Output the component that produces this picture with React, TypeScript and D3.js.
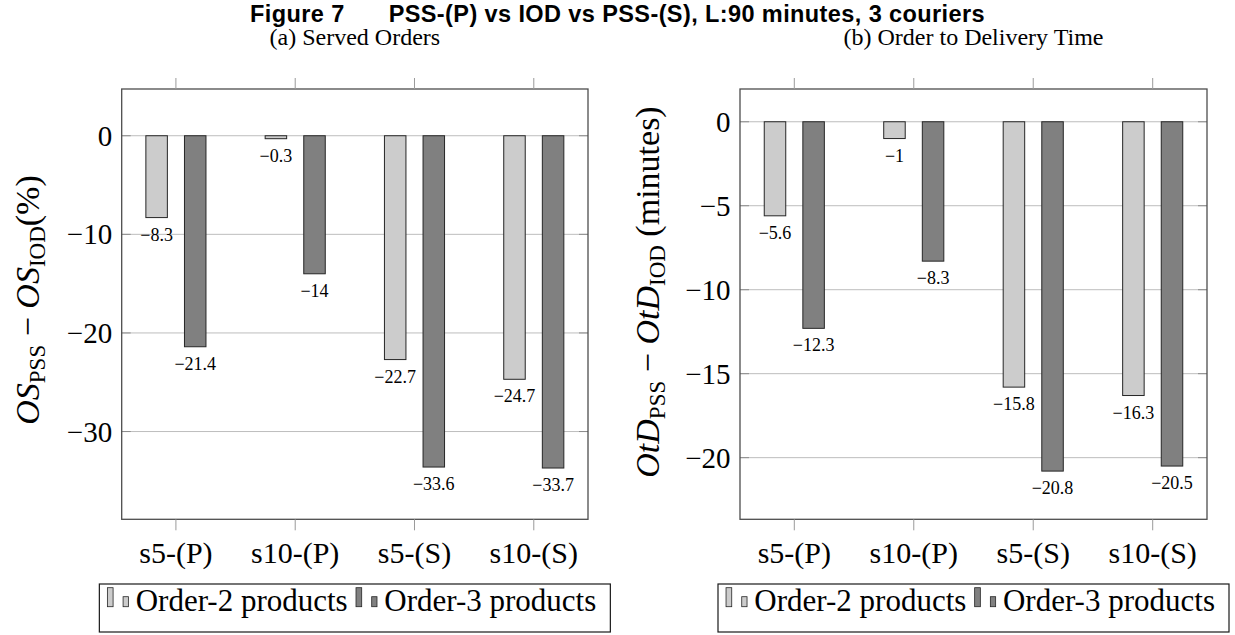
import { useRef, useEffect } from 'react';
import * as d3 from 'd3';

const categories = ['s5-(P)', 's10-(P)', 's5-(S)', 's10-(S)'];
const seriesNames = ['Order-2 products', 'Order-3 products'];
const seriesFills = ['#cccccc', '#808080'];

// (a) Served Orders
const servedOrder2 = [-8.3, -0.3, -22.7, -24.7];
const servedOrder3 = [-21.4, -14, -33.6, -33.7];
const servedTicks = [0, -10, -20, -30];

// (b) Order to Delivery Time
const deliveryOrder2 = [-5.6, -1, -15.8, -16.3];
const deliveryOrder3 = [-12.3, -8.3, -20.8, -20.5];
const deliveryTicks = [0, -5, -10, -15, -20];

const SERIF = '"Liberation Serif", "DejaVu Serif", serif';

interface PanelSpec {
    left: number;
    right: number;
    top: number;
    bottom: number;
    yDomain: [number, number];
    ticks: number[];
    series: number[][];
    subtitle: string;
    labelVar: string;
    labelUnit: string;
    labelX: number;
    labelY: number;
}

const panels: PanelSpec[] = [
    {
        left: 121.7, right: 588, top: 89, bottom: 519.3,
        yDomain: [-38.9, 4.74],
        ticks: servedTicks,
        series: [servedOrder2, servedOrder3],
        subtitle: '(a) Served Orders',
        labelVar: 'OS',
        labelUnit: '(%)',
        labelX: 39,
        labelY: 300,
    },
    {
        left: 740, right: 1207, top: 89, bottom: 519.3,
        yDomain: [-23.67, 1.95],
        ticks: deliveryTicks,
        series: [deliveryOrder2, deliveryOrder3],
        subtitle: '(b) Order to Delivery Time',
        labelVar: 'OtD',
        labelUnit: '\u00a0(minutes)',
        labelX: 659,
        labelY: 292,
    },
];

const fmt = (v: number) => String(v).replace('-', '\u2212');

function drawPanel(svg: d3.Selection<SVGSVGElement, unknown, null, undefined>, p: PanelSpec) {
    const x = d3.scalePoint<string>()
        .domain(categories)
        .range([p.left, p.right])
        .padding(0.4545);
    const sub = d3.scalePoint<string>()
        .domain(seriesNames)
        .range([-19.3, 19.3]);
    const y = d3.scaleLinear()
        .domain(p.yDomain)
        .range([p.bottom, p.top]);
    const barW = 21.5;
    const cx = (p.left + p.right) / 2;

    const g = svg.append('g');

    // Grid lines
    p.ticks.forEach(t => {
        g.append('line')
            .attr('x1', p.left).attr('x2', p.right)
            .attr('y1', y(t)).attr('y2', y(t))
            .attr('stroke', '#bdbdbd')
            .attr('stroke-width', 1);
        // inner tick marks on both sides
        [[p.left, p.left + 9], [p.right - 9, p.right]].forEach(([a, b]) => {
            g.append('line')
                .attr('x1', a).attr('x2', b)
                .attr('y1', y(t)).attr('y2', y(t))
                .attr('stroke', '#8c8c8c');
        });
        g.append('text')
            .attr('x', p.left - 9.5)
            .attr('y', y(t) + 10)
            .attr('text-anchor', 'end')
            .attr('font-family', SERIF)
            .attr('font-size', 29)
            .text(fmt(t));
    });

    // Bars and value labels
    p.series.forEach((vals, si) => {
        vals.forEach((v, i) => {
            const bx = (x(categories[i]) ?? 0) + (sub(seriesNames[si]) ?? 0);
            g.append('rect')
                .attr('x', bx - barW / 2)
                .attr('y', y(Math.max(0, v)))
                .attr('width', barW)
                .attr('height', Math.abs(y(v) - y(0)))
                .attr('fill', seriesFills[si])
                .attr('stroke', '#262626')
                .attr('stroke-width', 1);
            g.append('text')
                .attr('x', bx)
                .attr('y', y(v) + 23)
                .attr('text-anchor', 'middle')
                .attr('font-family', SERIF)
                .attr('font-size', 18)
                .text(fmt(v));
        });
    });

    // Frame
    g.append('rect')
        .attr('x', p.left).attr('y', p.top)
        .attr('width', p.right - p.left)
        .attr('height', p.bottom - p.top)
        .attr('fill', 'none')
        .attr('stroke', '#4d4d4d')
        .attr('stroke-width', 1.3);

    // Category ticks (top + bottom) and labels
    categories.forEach(c => {
        const tx = x(c) ?? 0;
        g.append('line')
            .attr('x1', tx).attr('x2', tx)
            .attr('y1', p.top - 11).attr('y2', p.top)
            .attr('stroke', '#9a9a9a');
        g.append('line')
            .attr('x1', tx).attr('x2', tx)
            .attr('y1', p.bottom).attr('y2', p.bottom + 11)
            .attr('stroke', '#9a9a9a');
        g.append('text')
            .attr('x', tx)
            .attr('y', 563)
            .attr('text-anchor', 'middle')
            .attr('font-family', SERIF)
            .attr('font-size', 30)
            .text(c);
    });

    // Subtitle
    g.append('text')
        .attr('x', cx)
        .attr('y', 45)
        .attr('text-anchor', 'middle')
        .attr('font-family', SERIF)
        .attr('font-size', 24)
        .text(p.subtitle);

    // Y axis label: Var_PSS − Var_IOD unit
    const lbl = g.append('text')
        .attr('transform', `translate(${p.labelX},${p.labelY}) rotate(-90)`)
        .attr('text-anchor', 'middle')
        .attr('font-family', SERIF)
        .attr('font-size', 34);
    lbl.append('tspan').attr('font-style', 'italic').text(p.labelVar);
    lbl.append('tspan').attr('font-size', 23).attr('dy', 6).text('PSS');
    lbl.append('tspan').attr('dy', -6).text(' \u2212 ');
    lbl.append('tspan').attr('font-style', 'italic').text(p.labelVar);
    lbl.append('tspan').attr('font-size', 23).attr('dy', 6).text('IOD');
    lbl.append('tspan').attr('dy', -6).text(p.labelUnit);

    // Legend
    const boxW = 511;
    const boxL = cx - boxW / 2;
    g.append('rect')
        .attr('x', boxL).attr('y', 584)
        .attr('width', boxW).attr('height', 48)
        .attr('fill', '#fff')
        .attr('stroke', '#1a1a1a')
        .attr('stroke-width', 1.2);
    const lg = g.append('g');
    let pos = 0;
    seriesNames.forEach((name, si) => {
        lg.append('rect')
            .attr('x', pos).attr('y', 587.7)
            .attr('width', 5.7).attr('height', 19)
            .attr('fill', seriesFills[si]).attr('stroke', '#262626').attr('stroke-width', 0.8);
        lg.append('rect')
            .attr('x', pos + 15.7).attr('y', 596.7)
            .attr('width', 5.3).attr('height', 10)
            .attr('fill', seriesFills[si]).attr('stroke', '#262626').attr('stroke-width', 0.8);
        const t = lg.append('text')
            .attr('x', pos + 28.3)
            .attr('y', 611)
            .attr('font-family', SERIF)
            .attr('font-size', 31)
            .text(name);
        const w = (t.node() as SVGTextElement).getComputedTextLength();
        pos += 28.3 + w + (si < seriesNames.length - 1 ? 8.3 : 0);
    });
    lg.attr('transform', `translate(${boxL + (boxW - pos) / 2 - 3},0)`);
}

export default function App() {
    const svgRef = useRef<SVGSVGElement>(null);

    useEffect(() => {
        if (!svgRef.current) return;
        const svg = d3.select(svgRef.current);
        svg.selectAll('*').remove();

        svg.append('rect').attr('width', 1235).attr('height', 635).attr('fill', '#fff');

        // Figure title
        const title = svg.append('text')
            .attr('x', 617.5)
            .attr('y', 22)
            .attr('text-anchor', 'middle')
            .attr('font-family', '"Liberation Sans", Arial, sans-serif')
            .attr('font-weight', 'bold')
            .attr('font-size', 23.5)
            .attr('letter-spacing', 0.4);
        title.append('tspan').text('Figure 7');
        title.append('tspan').attr('dx', 44).text('PSS-(P) vs IOD vs PSS-(S), L:90 minutes, 3 couriers');

        panels.forEach(p => drawPanel(svg, p));
    }, []);

    return (
        <div style={{ position: 'absolute', left: 0, top: 0 }}>
            <svg ref={svgRef} width={1235} height={635} style={{ display: 'block' }} />
        </div>
    );
}
